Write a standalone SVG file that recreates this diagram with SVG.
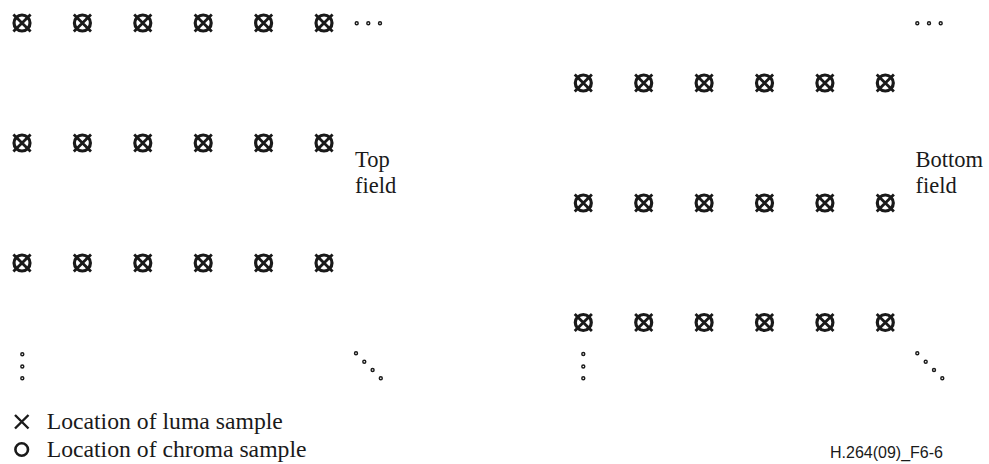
<svg xmlns="http://www.w3.org/2000/svg" xmlns:xlink="http://www.w3.org/1999/xlink" width="989" height="464" viewBox="0 0 989 464">
<style>
.smp{fill:none;stroke:#1a1a1a;stroke-width:3.2}
.x{fill:none;stroke:#1a1a1a;stroke-width:2.8}
.lx{fill:none;stroke:#1a1a1a;stroke-width:2.4}
.lo{fill:none;stroke:#1a1a1a;stroke-width:2.6}
.dot{fill:none;stroke:#1a1a1a;stroke-width:1.4}
.lbl{font-family:"Liberation Serif","Times New Roman",serif;font-size:22.5px;fill:#1a1a1a}
.leg{font-family:"Liberation Serif","Times New Roman",serif;font-size:23.7px;fill:#1a1a1a}
.id{font-family:"Liberation Sans",Arial,sans-serif;font-size:16px;fill:#1a1a1a}
</style>
<defs>
<g id="s">
<circle class="smp" cx="0" cy="0" r="8"/>
<path class="x" d="M-8.6,-8.6L8.6,8.6M8.6,-8.6L-8.6,8.6"/>
</g>
<circle id="d" class="dot" r="1.5"/>
</defs>
<rect width="989" height="464" fill="#fff"/>
<g id="top-field">
<g id="top-row1">
<use xlink:href="#s" x="22" y="23"/><use xlink:href="#s" x="82.4" y="23"/><use xlink:href="#s" x="142.8" y="23"/><use xlink:href="#s" x="203.2" y="23"/><use xlink:href="#s" x="263.6" y="23"/><use xlink:href="#s" x="324" y="23"/>
</g>
<g id="top-row2">
<use xlink:href="#s" x="22" y="143"/><use xlink:href="#s" x="82.4" y="143"/><use xlink:href="#s" x="142.8" y="143"/><use xlink:href="#s" x="203.2" y="143"/><use xlink:href="#s" x="263.6" y="143"/><use xlink:href="#s" x="324" y="143"/>
</g>
<g id="top-row3">
<use xlink:href="#s" x="22" y="263"/><use xlink:href="#s" x="82.4" y="263"/><use xlink:href="#s" x="142.8" y="263"/><use xlink:href="#s" x="203.2" y="263"/><use xlink:href="#s" x="263.6" y="263"/><use xlink:href="#s" x="324" y="263"/>
</g>
<g id="top-dots">
<use xlink:href="#d" x="356.7" y="23.3"/><use xlink:href="#d" x="368.3" y="23.3"/><use xlink:href="#d" x="380" y="23.3"/>
<use xlink:href="#d" x="22.3" y="354.3"/><use xlink:href="#d" x="22.3" y="366.5"/><use xlink:href="#d" x="22.3" y="378.3"/>
<use xlink:href="#d" x="356" y="353.3"/><use xlink:href="#d" x="364.3" y="361.8"/><use xlink:href="#d" x="372.6" y="370"/><use xlink:href="#d" x="380.8" y="378.3"/>
</g>
<text class="lbl" x="355" y="167">Top</text>
<text class="lbl" x="355" y="193">field</text>
</g>
<g id="bottom-field">
<g id="bot-row1">
<use xlink:href="#s" x="583.3" y="83"/><use xlink:href="#s" x="643.7" y="83"/><use xlink:href="#s" x="704.1" y="83"/><use xlink:href="#s" x="764.5" y="83"/><use xlink:href="#s" x="824.9" y="83"/><use xlink:href="#s" x="885.3" y="83"/>
</g>
<g id="bot-row2">
<use xlink:href="#s" x="583.3" y="203"/><use xlink:href="#s" x="643.7" y="203"/><use xlink:href="#s" x="704.1" y="203"/><use xlink:href="#s" x="764.5" y="203"/><use xlink:href="#s" x="824.9" y="203"/><use xlink:href="#s" x="885.3" y="203"/>
</g>
<g id="bot-row3">
<use xlink:href="#s" x="583.3" y="322.5"/><use xlink:href="#s" x="643.7" y="322.5"/><use xlink:href="#s" x="704.1" y="322.5"/><use xlink:href="#s" x="764.5" y="322.5"/><use xlink:href="#s" x="824.9" y="322.5"/><use xlink:href="#s" x="885.3" y="322.5"/>
</g>
<g id="bot-dots">
<use xlink:href="#d" x="917.3" y="23.3"/><use xlink:href="#d" x="929" y="23.3"/><use xlink:href="#d" x="940.7" y="23.3"/>
<use xlink:href="#d" x="583.3" y="354"/><use xlink:href="#d" x="583.3" y="366.5"/><use xlink:href="#d" x="583.3" y="378.3"/>
<use xlink:href="#d" x="917.3" y="353.3"/><use xlink:href="#d" x="925.7" y="361.7"/><use xlink:href="#d" x="934" y="370"/><use xlink:href="#d" x="942.3" y="378.3"/>
</g>
<text class="lbl" x="915.5" y="167">Bottom</text>
<text class="lbl" x="915.5" y="193">field</text>
</g>
<g id="legend">
<g id="legend-luma">
<path class="lx" d="M15,415L28.5,428.5M28.5,415L15,428.5"/>
<text class="leg" x="46.7" y="428.5">Location of luma sample</text>
</g>
<g id="legend-chroma">
<circle class="lo" cx="21.7" cy="449.5" r="6.3"/>
<text class="leg" x="46.7" y="456.5">Location of chroma sample</text>
</g>
</g>
<text class="id" x="830" y="457.5">H.264(09)_F6-6</text>
</svg>
